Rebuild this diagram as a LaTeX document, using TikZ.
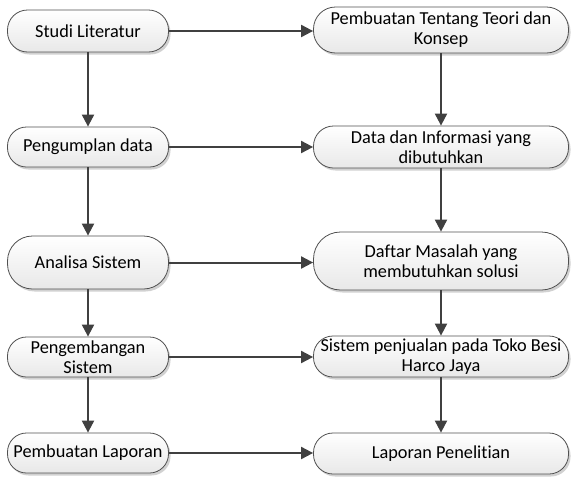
\documentclass[tikz,border=0pt]{standalone}
\usepackage{fontspec}
\setmainfont{Carlito}[Ligatures={NoCommon}]
\usetikzlibrary{arrows.meta,shadows}
\definecolor{edgegray}{HTML}{404040}
\definecolor{boxline}{HTML}{505050}
\tikzset{
  stage/.style={draw=boxline, line width=0.8pt, top color=white, bottom color=black!9,
    align=center, inner sep=0pt, font=\fontsize{18.3}{20}\selectfont,
    drop shadow={shadow xshift=2pt, shadow yshift=-2.5pt, fill=black, opacity=0.18}},
  leftstage/.style={stage, minimum width=161pt},
  rightstage/.style={stage, minimum width=255pt},
  flow/.style={draw=edgegray, line width=2pt, -{Triangle[length=12pt,width=12pt]}},
}
\begin{document}
\begin{tikzpicture}[x=1pt,y=-1pt]
\useasboundingbox (0,0) rectangle (571,477);

% left column: activities
\node[leftstage, minimum height=42pt, rounded corners=20pt] (l1) at (88,31) {Studi Literatur};
\node[leftstage, minimum height=40pt, rounded corners=19pt] (l2) at (88,147) {Pengumplan data};
\node[leftstage, minimum height=53pt, rounded corners=25pt] (l3) at (88,262.5) {Analisa Sistem};
\node[leftstage, minimum height=40pt, rounded corners=19pt] (l4) at (88,357) {Pengembangan\\Sistem};
\node[leftstage, minimum height=40pt, rounded corners=19pt] (l5) at (88,453) {Pembuatan Laporan};

% right column: results
\node[rightstage, minimum height=46pt, rounded corners=22pt] (r1) at (441,30) {Pembuatan Tentang Teori dan\\Konsep};
\node[rightstage, minimum height=42pt, rounded corners=20pt] (r2) at (441,147) {Data dan Informasi yang\\dibutuhkan};
\node[rightstage, minimum height=58pt, rounded corners=27pt] (r3) at (441,261) {Daftar Masalah yang\\membutuhkan solusi};
\node[rightstage, minimum height=41pt, rounded corners=19.5pt] (r4) at (441,356.5) {Sistem penjualan pada Toko Besi\\Harco Jaya};
\node[rightstage, minimum height=41pt, rounded corners=19.5pt] (r5) at (441,453.5) {Laporan Penelitian};

% vertical flow
\foreach \a/\b in {l1/l2,l2/l3,l3/l4,l4/l5,r1/r2,r2/r3,r3/r4,r4/r5}
  \draw[flow] (\a.south) -- (\b.north);

% horizontal flow
\foreach \i in {1,...,5}
  \draw[flow] (l\i.east) -- (l\i.east -| r\i.west);
\end{tikzpicture}
\end{document}
